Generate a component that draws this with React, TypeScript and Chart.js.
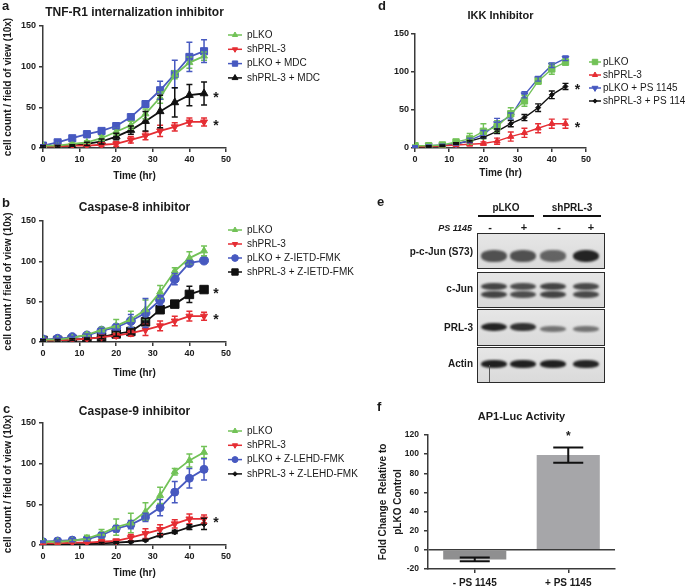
import React, { useEffect, useRef } from 'react';
import { Chart, registerables } from 'chart.js';
import { drawPoint } from 'chart.js/helpers';

Chart.register(...registerables);

const FONT = "'Liberation Sans', Arial, Helvetica, sans-serif";
const AXIS = '#3a3a3a';
const TEXT = '#1a1a1a';
const GREEN = '#72c257';
const RED = '#e52d33';
const BLUE = '#4759c0';
const BLACK = '#111111';

// ---------- shared ----------
const timePoints = [0, 4, 8, 12, 16, 20, 24, 28, 32, 36, 40, 44];
const yAxisTitle = 'cell count / field of view (10x)';
const xAxisTitle = 'Time (hr)';

// ---------- panel a ----------
const aTitle = 'TNF-R1 internalization inhibitor';
const aLabels = ['pLKO', 'shPRL-3', 'pLKO + MDC', 'shPRL-3 + MDC'];
const aPLKO = [3, 3, 5, 7, 12, 20, 28, 42, 62, 90, 105, 113];
const aPLKOErr = [1, 1, 1, 2, 3, 4, 5, 6, 7, 5, 7, 5];
const aSh = [2, 2, 3, 3, 4, 5, 10, 15, 21, 26, 32, 32];
const aShErr = [1, 1, 1, 1, 2, 3, 4, 5, 7, 5, 5, 5];
const aPLKOMdc = [3, 7, 12, 17, 21, 27, 38, 54, 71, 91, 112, 119];
const aPLKOMdcErr = [1, 2, 3, 4, 3, 3, 3, 4, 11, 17, 18, 14];
const aShMdc = [2, 2, 3, 5, 8, 14, 22, 33, 45, 56, 65, 67];
const aShMdcErr = [1, 1, 1, 2, 3, 4, 5, 12, 20, 18, 13, 14];

// ---------- panel b ----------
const bTitle = 'Caspase-8 inhibitor';
const bLabels = ['pLKO', 'shPRL-3', 'pLKO + Z-IETD-FMK', 'shPRL-3 + Z-IETD-FMK'];
const bPLKO = [3, 3, 5, 9, 15, 20, 28, 40, 62, 88, 104, 113];
const bPLKOErr = [1, 1, 1, 2, 3, 8, 10, 12, 8, 4, 8, 6];
const bSh = [2, 2, 3, 4, 6, 8, 11, 15, 20, 26, 32, 32];
const bShErr = [1, 1, 1, 1, 2, 3, 4, 7, 6, 6, 6, 5];
const bPLKOIetd = [3, 4, 6, 8, 14, 18, 26, 36, 52, 78, 98, 101];
const bPLKOIetdErr = [1, 1, 1, 2, 3, 4, 8, 18, 6, 7, 3, 3];
const bShIetd = [2, 2, 3, 4, 6, 10, 13, 25, 40, 47, 59, 65];
const bShIetdErr = [1, 1, 1, 1, 2, 3, 3, 4, 3, 3, 10, 3];

// ---------- panel c ----------
const cTitle = 'Caspase-9 inhibitor';
const cLabels = ['pLKO', 'shPRL-3', 'pLKO + Z-LEHD-FMK', 'shPRL-3 + Z-LEHD-FMK'];
const cPLKO = [4, 4, 5, 8, 14, 22, 27, 41, 61, 90, 104, 114];
const cPLKOErr = [1, 1, 2, 4, 5, 10, 12, 11, 10, 4, 8, 7];
const cSh = [2, 2, 3, 3, 4, 5, 9, 14, 19, 26, 32, 32];
const cShErr = [1, 1, 1, 1, 2, 2, 4, 6, 6, 5, 6, 5];
const cPLKOLehd = [4, 5, 6, 7, 12, 20, 25, 34, 46, 65, 82, 93];
const cPLKOLehdErr = [1, 1, 2, 2, 3, 4, 5, 5, 10, 13, 12, 13];
const cShLehd = [1, 1, 1, 1, 2, 3, 4, 6, 12, 16, 22, 26];
const cShLehdErr = [0, 0, 0, 0, 1, 1, 1, 1, 2, 2, 3, 7];

// ---------- panel d ----------
const dTitle = 'IKK Inhibitor';
const dLabels = ['pLKO', 'shPRL-3', 'pLKO + PS 1145', 'shPRL-3 + PS 114'];
const dPLKO = [3, 3, 4, 8, 12, 22, 28, 45, 62, 88, 104, 113];
const dPLKOErr = [1, 1, 2, 3, 7, 10, 8, 8, 7, 4, 7, 4];
const dSh = [2, 2, 3, 4, 5, 6, 9, 15, 20, 26, 32, 32];
const dShErr = [1, 1, 1, 1, 2, 2, 4, 6, 6, 6, 6, 6];
const dPLKOPs = [2, 3, 4, 5, 10, 18, 32, 42, 70, 91, 109, 118];
const dPLKOPsErr = [1, 1, 1, 1, 3, 5, 7, 4, 4, 3, 3, 3];
const dShPs = [1, 2, 3, 6, 9, 14, 22, 32, 40, 53, 70, 81];
const dShPsErr = [0, 1, 1, 1, 1, 1, 3, 4, 4, 5, 5, 4];

// ---------- panel e (blot) ----------
const blotGroups = ['pLKO', 'shPRL-3'];
const blotTreatment = ['-', '+', '-', '+'];
const blotRows = ['p-c-Jun (S73)', 'c-Jun', 'PRL-3', 'Actin'];
const bandStrength = [
  [0.72, 0.72, 0.62, 0.95],
  [0.85, 0.8, 0.85, 0.82],
  [0.95, 0.88, 0.55, 0.55],
  [0.97, 0.97, 0.97, 0.95],
];

// ---------- panel f ----------
const fTitle = 'AP1-Luc Activity';
const fCategories = ['- PS 1145', '+ PS 1145'];
const fValues = [-10, 99];
const fErrors = [2, 8];
const fYTitle = ['Fold Change  Relative to', 'pLKO Control'];

// ---------- plugins ----------
const errorBars = {
  id: 'errorBars',
  afterDatasetsDraw(chart: any) {
    const ctx = chart.ctx;
    const ys = chart.scales.y;
    chart.data.datasets.forEach((ds: any, i: number) => {
      if (!ds.errors) return;
      const meta = chart.getDatasetMeta(i);
      ctx.save();
      ctx.strokeStyle = ds.errorColor || ds.borderColor;
      ctx.lineWidth = ds.errorWidth || 1.5;
      meta.data.forEach((el: any, j: number) => {
        const d = ds.data[j];
        const v = typeof d === 'number' ? d : d.y;
        const e = ds.errors[j];
        if (!e) return;
        const lo = ds.clampZero ? Math.max(0, v - e) : v - e;
        const yt = ys.getPixelForValue(v + e);
        const yb = ys.getPixelForValue(lo);
        const cw = ds.capWidth || 3;
        ctx.beginPath();
        ctx.moveTo(el.x, yt);
        ctx.lineTo(el.x, yb);
        ctx.moveTo(el.x - cw, yt);
        ctx.lineTo(el.x + cw, yt);
        if (!ds.clampZero || v - e > 0) {
          ctx.moveTo(el.x - cw, yb);
          ctx.lineTo(el.x + cw, yb);
        }
        ctx.stroke();
      });
      ctx.restore();
    });
  },
};

function decorPlugin(cfg: any) {
  return {
    id: 'decor',
    afterDraw(chart: any) {
      const ctx = chart.ctx;
      const ca = chart.chartArea;
      ctx.save();
      ctx.fillStyle = TEXT;
      ctx.textAlign = 'center';
      ctx.textBaseline = 'middle';
      ctx.font = `bold ${cfg.titleSize}px ${FONT}`;
      ctx.fillText(cfg.title, (ca.left + ca.right) / 2, cfg.titleY);
      ctx.textAlign = 'left';
      ctx.textBaseline = 'alphabetic';
      ctx.font = `bold 13px ${FONT}`;
      ctx.fillText(cfg.letter, cfg.letterX, cfg.letterY);
      if (cfg.legend) {
        const L = cfg.legend;
        chart.data.datasets.forEach((ds: any, i: number) => {
          const y = L.y0 + i * L.dy;
          ctx.strokeStyle = ds.borderColor;
          ctx.lineWidth = 1.5;
          ctx.beginPath();
          ctx.moveTo(L.x0, y);
          ctx.lineTo(L.x1, y);
          ctx.stroke();
          ctx.fillStyle = ds.pointBackgroundColor;
          ctx.strokeStyle = ds.pointBorderColor;
          ctx.lineWidth = 1;
          drawPoint(
            ctx,
            { pointStyle: ds.pointStyle, radius: ds.pointRadius * L.scale, rotation: ds.pointRotation, borderWidth: 1 } as any,
            (L.x0 + L.x1) / 2,
            y
          );
          ctx.fillStyle = TEXT;
          ctx.font = `${L.size}px ${FONT}`;
          ctx.textAlign = 'left';
          ctx.textBaseline = 'middle';
          ctx.fillText(ds.label, L.textX, y);
        });
      }
      if (cfg.stars) {
        ctx.font = `bold 14px ${FONT}`;
        ctx.textAlign = 'center';
        ctx.textBaseline = 'alphabetic';
        ctx.fillStyle = TEXT;
        cfg.stars.forEach((si: number) => {
          const meta = chart.getDatasetMeta(si);
          const last = meta.data[meta.data.length - 1];
          ctx.fillText('*', last.x + 12, last.y + 8);
        });
      }
      ctx.restore();
    },
  };
}

type Series = {
  label: string;
  values: number[];
  errors: number[];
  color: string;
  pointStyle: string;
  radius: number;
  rotation?: number;
  fill?: string;
};

function makeLineChart(canvas: HTMLCanvasElement, cfg: any) {
  const tickFont = { family: FONT, size: 9, weight: 'bold' as const };
  const titleFont = { family: FONT, size: 10, weight: 'bold' as const };
  return new Chart(canvas, {
    type: 'line',
    data: {
      datasets: cfg.series.map((s: Series) => ({
        label: s.label,
        data: timePoints.map((t, i) => ({ x: t, y: s.values[i] })),
        errors: s.errors,
        clampZero: true,
        capWidth: 3,
        errorWidth: cfg.errW ?? 1.5,
        borderColor: s.color,
        backgroundColor: s.color,
        pointBackgroundColor: s.fill ?? s.color,
        pointBorderColor: s.color,
        pointStyle: s.pointStyle,
        pointRadius: s.radius,
        pointRotation: s.rotation ?? 0,
        pointBorderWidth: 1,
        borderWidth: cfg.lineW ?? 1.8,
        tension: 0,
      })),
    } as any,
    options: {
      responsive: false,
      animation: false,
      devicePixelRatio: 1,
      layout: { padding: { left: 0, top: cfg.padTop, right: cfg.padRight, bottom: 0 } },
      plugins: { legend: { display: false }, title: { display: false }, tooltip: { enabled: false } },
      scales: {
        x: {
          type: 'linear',
          min: 0,
          max: 50,
          ticks: { stepSize: 10, font: tickFont, color: TEXT, padding: 2, maxRotation: 0 },
          grid: { drawOnChartArea: false, tickLength: 4, color: AXIS, lineWidth: 1.5 },
          border: { color: AXIS, width: 1.5 },
          title: { display: true, text: xAxisTitle, font: titleFont, color: TEXT, padding: { top: 0, bottom: cfg.xTitlePb } },
          afterFit: (s: any) => {
            s.height = cfg.xh;
          },
        },
        y: {
          min: 0,
          max: 150,
          ticks: { stepSize: 50, font: tickFont, color: TEXT, padding: cfg.yTickPad ?? 3 },
          grid: { drawOnChartArea: false, tickLength: 4, color: AXIS, lineWidth: 1.5 },
          border: { color: AXIS, width: 1.5 },
          title: { display: !!cfg.yTitle, text: cfg.yTitle || '', font: titleFont, color: TEXT, padding: { top: 2, bottom: 0 } },
          afterFit: (s: any) => {
            s.width = cfg.yw;
          },
        },
      },
    } as any,
    plugins: [errorBars, decorPlugin(cfg)],
  });
}

function makeBarChart(canvas: HTMLCanvasElement) {
  const tickFont = { family: FONT, size: 8.5, weight: 'bold' as const };
  const catFont = { family: FONT, size: 10, weight: 'bold' as const };
  const starPlugin = {
    id: 'barDecor',
    afterDraw(chart: any) {
      const ctx = chart.ctx;
      const ca = chart.chartArea;
      ctx.save();
      ctx.fillStyle = TEXT;
      ctx.textAlign = 'center';
      ctx.textBaseline = 'middle';
      ctx.font = `bold 11px ${FONT}`;
      ctx.fillText(fTitle, (ca.left + ca.right) / 2, 22);
      ctx.textAlign = 'left';
      ctx.textBaseline = 'alphabetic';
      ctx.font = `bold 13px ${FONT}`;
      ctx.fillText('f', 17, 16);
      const meta = chart.getDatasetMeta(0);
      const el = meta.data[1];
      const yTop = chart.scales.y.getPixelForValue(fValues[1] + fErrors[1]);
      ctx.font = `bold 12px ${FONT}`;
      ctx.textAlign = 'center';
      ctx.fillText('*', el.x, yTop - 7);
      ctx.restore();
    },
  };
  return new Chart(canvas, {
    type: 'bar',
    data: {
      labels: fCategories,
      datasets: [
        {
          data: fValues,
          errors: fErrors,
          capWidth: 15,
          errorWidth: 2,
          errorColor: '#111',
          backgroundColor: ['#8f8f90', '#a6a6a9'],
          borderWidth: 0,
          barPercentage: 0.75,
          categoryPercentage: 0.9,
        },
      ],
    } as any,
    options: {
      responsive: false,
      animation: false,
      devicePixelRatio: 1,
      layout: { padding: { left: 0, top: 40, right: 70, bottom: 0 } },
      plugins: { legend: { display: false }, title: { display: false }, tooltip: { enabled: false } },
      scales: {
        x: {
          ticks: { font: catFont, color: TEXT, padding: 4 },
          grid: { offset: false, drawOnChartArea: false, tickLength: 4, color: AXIS, lineWidth: 1.5 },
          border: { color: AXIS, width: 1.5 },
          afterFit: (s: any) => {
            s.height = 19;
          },
        },
        y: {
          min: -20,
          max: 120,
          ticks: { stepSize: 20, font: tickFont, color: TEXT, padding: 5 },
          grid: {
            drawOnChartArea: true,
            tickLength: 4,
            lineWidth: 1.5,
            color: (c: any) => (c.tick && c.tick.value === 0 ? AXIS : 'rgba(0,0,0,0)'),
            tickColor: AXIS,
          },
          border: { color: AXIS, width: 1.5 },
          title: {
            display: true,
            text: fYTitle,
            font: { family: FONT, size: 10, weight: 'bold', lineHeight: 1.5 },
            color: TEXT,
            padding: { top: 15.5, bottom: 0 },
          },
          afterFit: (s: any) => {
            s.width = 68;
          },
        },
      },
    } as any,
    plugins: [errorBars, starPlugin],
  });
}

function ChartCanvas(props: { left: number; top: number; width: number; height: number; make: (c: HTMLCanvasElement) => Chart }) {
  const ref = useRef<HTMLCanvasElement>(null);
  useEffect(() => {
    const chart = props.make(ref.current as HTMLCanvasElement);
    return () => chart.destroy();
  }, []);
  return (
    <canvas
      ref={ref}
      width={props.width}
      height={props.height}
      style={{ position: 'absolute', left: props.left, top: props.top, width: props.width, height: props.height }}
    />
  );
}

const seriesA: Series[] = [
  { label: aLabels[0], values: aPLKO, errors: aPLKOErr, color: GREEN, pointStyle: 'triangle', radius: 4 },
  { label: aLabels[1], values: aSh, errors: aShErr, color: RED, pointStyle: 'triangle', radius: 4, rotation: 180 },
  { label: aLabels[2], values: aPLKOMdc, errors: aPLKOMdcErr, color: BLUE, pointStyle: 'rect', radius: 5 },
  { label: aLabels[3], values: aShMdc, errors: aShMdcErr, color: BLACK, pointStyle: 'triangle', radius: 4.5 },
];
const seriesB: Series[] = [
  { label: bLabels[0], values: bPLKO, errors: bPLKOErr, color: GREEN, pointStyle: 'triangle', radius: 4 },
  { label: bLabels[1], values: bSh, errors: bShErr, color: RED, pointStyle: 'triangle', radius: 4, rotation: 180 },
  { label: bLabels[2], values: bPLKOIetd, errors: bPLKOIetdErr, color: BLUE, pointStyle: 'circle', radius: 4.5 },
  { label: bLabels[3], values: bShIetd, errors: bShIetdErr, color: BLACK, pointStyle: 'rect', radius: 6 },
];
const seriesC: Series[] = [
  { label: cLabels[0], values: cPLKO, errors: cPLKOErr, color: GREEN, pointStyle: 'triangle', radius: 4 },
  { label: cLabels[1], values: cSh, errors: cShErr, color: RED, pointStyle: 'triangle', radius: 4, rotation: 180 },
  { label: cLabels[2], values: cPLKOLehd, errors: cPLKOLehdErr, color: BLUE, pointStyle: 'circle', radius: 4 },
  { label: cLabels[3], values: cShLehd, errors: cShLehdErr, color: BLACK, pointStyle: 'rectRot', radius: 3 },
];
const seriesD: Series[] = [
  { label: dLabels[0], values: dPLKO, errors: dPLKOErr, color: GREEN, pointStyle: 'rect', radius: 4.5 },
  { label: dLabels[1], values: dSh, errors: dShErr, color: RED, pointStyle: 'triangle', radius: 3.5 },
  { label: dLabels[2], values: dPLKOPs, errors: dPLKOPsErr, color: BLUE, pointStyle: 'triangle', radius: 4, rotation: 180 },
  { label: dLabels[3], values: dShPs, errors: dShPsErr, color: BLACK, pointStyle: 'rectRot', radius: 2.5 },
];

const cfgA = {
  series: seriesA, padTop: 26, padRight: 144, yw: 43, xh: 37, xTitlePb: 3, yTitle: yAxisTitle,
  title: aTitle, titleY: 13, titleSize: 12, letter: 'a', letterX: 2, letterY: 10,
  legend: { x0: 228, x1: 242, textX: 247, y0: 35, dy: 14.3, size: 10, scale: 0.75 }, stars: [3, 1],
};
const cfgB = {
  series: seriesB, padTop: 36, padRight: 144, yw: 43, xh: 41, xTitlePb: 4, yTitle: yAxisTitle,
  title: bTitle, titleY: 23, titleSize: 12, letter: 'b', letterX: 2, letterY: 22,
  legend: { x0: 228, x1: 242, textX: 247, y0: 45, dy: 14, size: 10, scale: 0.75 }, stars: [3, 1],
};
const cfgC = {
  series: seriesC, padTop: 38, padRight: 144, yw: 43, xh: 43, xTitlePb: 9, yTitle: yAxisTitle,
  title: cTitle, titleY: 27, titleSize: 12, letter: 'c', letterX: 3, letterY: 28,
  legend: { x0: 228, x1: 242, textX: 247, y0: 46, dy: 14.3, size: 10, scale: 0.75 }, stars: [1],
};
const cfgD = {
  series: seriesD, padTop: 34, padRight: 99, yw: 75, xh: 37, xTitlePb: 6, yTitle: '', yTickPad: 2,
  title: dTitle, titleY: 16, titleSize: 11, letter: 'd', letterX: 38, letterY: 10, lineW: 1.4, errW: 1.4,
  legend: { x0: 249, x1: 261, textX: 263, y0: 62, dy: 13, size: 10, scale: 0.85 }, stars: [3, 1],
};

function Blot() {
  const laneX = [494, 523, 553, 586];
  const signX = [490, 524, 559, 591];
  const boxTop = [233, 272, 309, 347];
  const boxH = [36, 36, 37, 36];
  const rowCenter = [256, 290, 327, 364];
  const labelY = [252, 289, 328, 364];
  const bold = { fontFamily: FONT, fontWeight: 'bold' as const, color: TEXT };
  const els: any[] = [];
  els.push(<div key="e" style={{ position: 'absolute', left: 377, top: 194, fontSize: 13, ...bold }}>e</div>);
  const groupSpan = [[478, 534], [543, 601]];
  blotGroups.forEach((g, i) => {
    const [a, b] = groupSpan[i];
    els.push(
      <div key={'g' + i} style={{ position: 'absolute', left: a, width: b - a, top: 202, textAlign: 'center', fontSize: 10, lineHeight: '12px', ...bold }}>{g}</div>
    );
    els.push(<div key={'gl' + i} style={{ position: 'absolute', left: a, width: b - a, top: 215, height: 1.5, background: '#111' }} />);
  });
  els.push(
    <div key="ps" style={{ position: 'absolute', right: 685 - 472, top: 222, fontSize: 9, lineHeight: '12px', fontStyle: 'italic', ...bold }}>PS 1145</div>
  );
  blotTreatment.forEach((t, i) => {
    els.push(
      <div key={'t' + i} style={{ position: 'absolute', left: signX[i] - 10, width: 20, top: 221, textAlign: 'center', fontSize: 11, lineHeight: '12px', ...bold }}>{t}</div>
    );
  });
  blotRows.forEach((r, ri) => {
    els.push(
      <div key={'l' + ri} style={{ position: 'absolute', right: 685 - 473, top: labelY[ri] - 6, fontSize: 10, lineHeight: '12px', whiteSpace: 'nowrap', ...bold }}>{r}</div>
    );
    els.push(
      <div key={'b' + ri} style={{ position: 'absolute', left: 477, top: boxTop[ri], width: 128, height: boxH[ri], boxSizing: 'border-box', border: '1.5px solid #2a2a2a', background: 'linear-gradient(#e6e6e6, #dadada)', overflow: 'hidden' }} />
    );
    laneX.forEach((lx, li) => {
      const s = bandStrength[ri][li];
      const alpha = s;
      if (ri === 1) {
        [-4, 4].forEach((dy, k) => {
          els.push(
            <div key={`band${ri}-${li}-${k}`} style={{ position: 'absolute', left: lx - 13, top: rowCenter[ri] + dy - 3.5, width: 26, height: 7, borderRadius: '45%', background: `rgba(40,40,40,${alpha})`, filter: 'blur(1px)' }} />
          );
        });
      } else {
        const h = ri === 0 ? 8 + 5 * s : ri === 2 ? 3 + 6 * s : 8;
        els.push(
          <div key={`band${ri}-${li}`} style={{ position: 'absolute', left: lx - 13, top: rowCenter[ri] - h / 2 + (ri === 2 && s < 0.7 ? 2 : 0), width: 26, height: h, borderRadius: '45%', background: `rgba(25,25,25,${alpha})`, filter: 'blur(1px)' }} />
        );
      }
    });
  });
  els.push(<div key="scratch" style={{ position: 'absolute', left: 489, top: 365, width: 1, height: 17, background: '#555' }} />);
  return <>{els}</>;
}

export default function App() {
  return (
    <div style={{ position: 'absolute', left: 0, top: 0, width: 685, height: 588, background: '#fff', overflow: 'hidden' }}>
      <ChartCanvas left={0} top={0} width={370} height={185} make={(c) => makeLineChart(c, cfgA)} />
      <ChartCanvas left={0} top={185} width={370} height={198} make={(c) => makeLineChart(c, cfgB)} />
      <ChartCanvas left={0} top={385} width={370} height={203} make={(c) => makeLineChart(c, cfgC)} />
      <ChartCanvas left={340} top={0} width={345} height={185} make={(c) => makeLineChart(c, cfgD)} />
      <Blot />
      <ChartCanvas left={360} top={395} width={325} height={193} make={(c) => makeBarChart(c)} />
    </div>
  );
}
